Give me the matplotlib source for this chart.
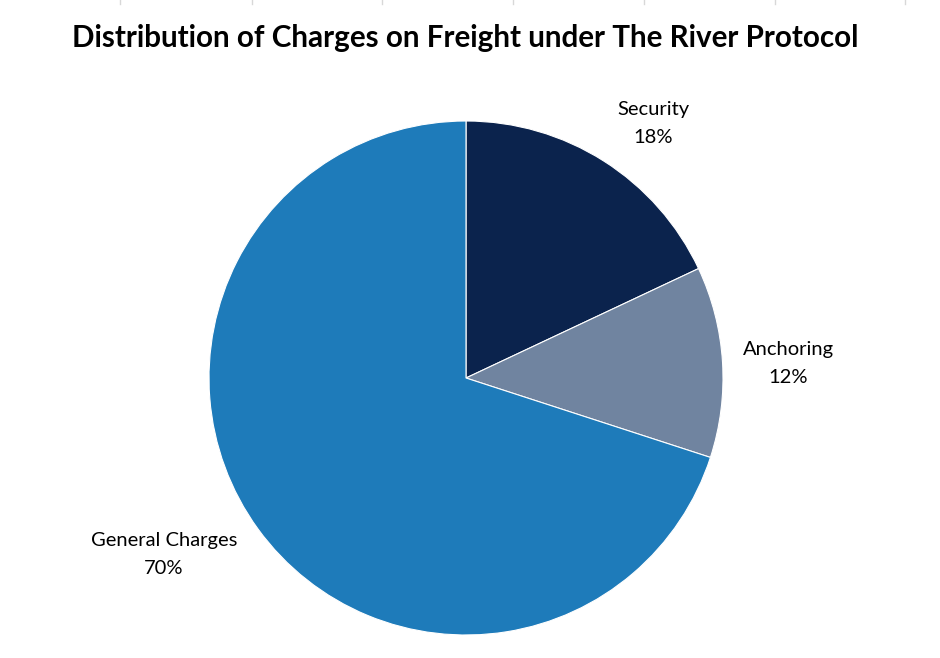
import matplotlib
matplotlib.use("Agg")
import matplotlib.pyplot as plt

plt.rcParams['font.family'] = ['Lato', 'DejaVu Sans']

categories = ["Security", "Anchoring", "General Charges"]
shares = [18, 12, 70]
colors = ["#0b234d", "#7084a0", "#1e7bba"]
# label centres, in units of the pie radius
label_pos = [(0.728, 0.99), (1.253, 0.055), (-1.175, -0.686)]

fig = plt.figure(figsize=(9.4, 6.58), dpi=100)

# faint ruler ticks along the top edge of the screenshot
for x in [120, 252, 382, 513, 644, 775, 905]:
    fig.add_artist(plt.Line2D([x / 940, x / 940], [1 - 4 / 658, 1], color="#d8d8d8", lw=1))

ax = fig.add_axes([209 / 940, 23 / 658, 514 / 940, 514 / 658])
ax.pie(shares, colors=colors, startangle=90, counterclock=False, radius=1,
       wedgeprops=dict(edgecolor="white", linewidth=0.8))
ax.set_xlim(-1, 1)
ax.set_ylim(-1, 1)
ax.set_aspect("equal")
ax.axis("off")

for name, val, (lx, ly) in zip(categories, shares, label_pos):
    ax.text(lx, ly, f"{name}\n{val}%", ha="center", va="center", fontsize=14.5,
            linespacing=1.78, color="black", clip_on=False)

fig.text(465 / 940, 1 - 38 / 658, "Distribution of Charges on Freight under The River Protocol",
         ha="center", va="center", fontsize=21.3, fontweight="bold", color="black")

fig.savefig("out.png", dpi=100)
